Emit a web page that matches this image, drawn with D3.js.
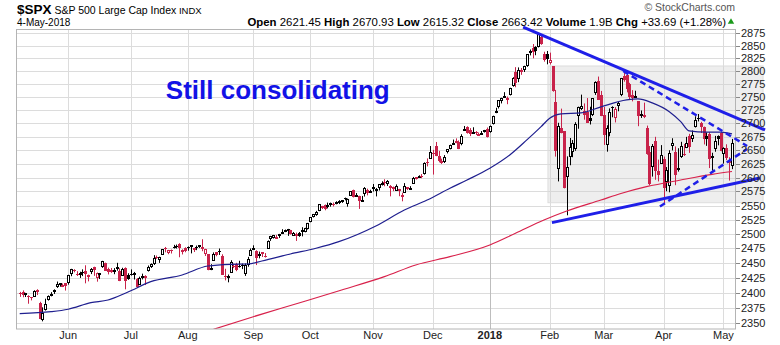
<!DOCTYPE html>
<html><head><meta charset="utf-8">
<script src="https://cdn.jsdelivr.net/npm/d3@7"></script>
<style>body{margin:0;background:#fff}svg{display:block;font-family:"Liberation Sans",Arial,sans-serif}</style>
</head><body><svg id="c" width="780" height="345"></svg>
<script>
// ---- data ----
const dates = [
"2017-05-08","2017-05-09","2017-05-10","2017-05-11","2017-05-12","2017-05-15","2017-05-16","2017-05-17","2017-05-18","2017-05-19","2017-05-22","2017-05-23","2017-05-24","2017-05-25","2017-05-26","2017-05-30","2017-05-31",
"2017-06-01","2017-06-02","2017-06-05","2017-06-06","2017-06-07","2017-06-08","2017-06-09","2017-06-12","2017-06-13","2017-06-14","2017-06-15","2017-06-16","2017-06-19","2017-06-20","2017-06-21","2017-06-22","2017-06-23","2017-06-26","2017-06-27","2017-06-28","2017-06-29","2017-06-30",
"2017-07-03","2017-07-05","2017-07-06","2017-07-07","2017-07-10","2017-07-11","2017-07-12","2017-07-13","2017-07-14","2017-07-17","2017-07-18","2017-07-19","2017-07-20","2017-07-21","2017-07-24","2017-07-25","2017-07-26","2017-07-27","2017-07-28","2017-07-31",
"2017-08-01","2017-08-02","2017-08-03","2017-08-04","2017-08-07","2017-08-08","2017-08-09","2017-08-10","2017-08-11","2017-08-14","2017-08-15","2017-08-16","2017-08-17","2017-08-18","2017-08-21","2017-08-22","2017-08-23","2017-08-24","2017-08-25","2017-08-28","2017-08-29","2017-08-30","2017-08-31",
"2017-09-01","2017-09-05","2017-09-06","2017-09-07","2017-09-08","2017-09-11","2017-09-12","2017-09-13","2017-09-14","2017-09-15","2017-09-18","2017-09-19","2017-09-20","2017-09-21","2017-09-22","2017-09-25","2017-09-26","2017-09-27","2017-09-28","2017-09-29",
"2017-10-02","2017-10-03","2017-10-04","2017-10-05","2017-10-06","2017-10-09","2017-10-10","2017-10-11","2017-10-12","2017-10-13","2017-10-16","2017-10-17","2017-10-18","2017-10-19","2017-10-20","2017-10-23","2017-10-24","2017-10-25","2017-10-26","2017-10-27","2017-10-30","2017-10-31",
"2017-11-01","2017-11-02","2017-11-03","2017-11-06","2017-11-07","2017-11-08","2017-11-09","2017-11-10","2017-11-13","2017-11-14","2017-11-15","2017-11-16","2017-11-17","2017-11-20","2017-11-21","2017-11-22","2017-11-24","2017-11-27","2017-11-28","2017-11-29","2017-11-30",
"2017-12-01","2017-12-04","2017-12-05","2017-12-06","2017-12-07","2017-12-08","2017-12-11","2017-12-12","2017-12-13","2017-12-14","2017-12-15","2017-12-18","2017-12-19","2017-12-20","2017-12-21","2017-12-22","2017-12-26","2017-12-27","2017-12-28","2017-12-29",
"2018-01-02","2018-01-03","2018-01-04","2018-01-05","2018-01-08","2018-01-09","2018-01-10","2018-01-11","2018-01-12","2018-01-16","2018-01-17","2018-01-18","2018-01-19","2018-01-22","2018-01-23","2018-01-24","2018-01-25","2018-01-26","2018-01-29","2018-01-30","2018-01-31",
"2018-02-01","2018-02-02","2018-02-05","2018-02-06","2018-02-07","2018-02-08","2018-02-09","2018-02-12","2018-02-13","2018-02-14","2018-02-15","2018-02-16","2018-02-20","2018-02-21","2018-02-22","2018-02-23","2018-02-26","2018-02-27","2018-02-28",
"2018-03-01","2018-03-02","2018-03-05","2018-03-06","2018-03-07","2018-03-08","2018-03-09","2018-03-12","2018-03-13","2018-03-14","2018-03-15","2018-03-16","2018-03-19","2018-03-20","2018-03-21","2018-03-22","2018-03-23","2018-03-26","2018-03-27","2018-03-28","2018-03-29",
"2018-04-02","2018-04-03","2018-04-04","2018-04-05","2018-04-06","2018-04-09","2018-04-10","2018-04-11","2018-04-12","2018-04-13","2018-04-16","2018-04-17","2018-04-18","2018-04-19","2018-04-20","2018-04-23","2018-04-24","2018-04-25","2018-04-26","2018-04-27","2018-04-30",
"2018-05-01","2018-05-02","2018-05-03","2018-05-04"];

const opens = [
2399.9,2401.6,2396.8,2394.8,2392.4,2393.0,2404.6,2382.9,2354.7,2371.4,2387.2,2397.0,2401.4,2409.5,2414.5,2411.7,2415.6,
2415.6,2431.3,2437.8,2431.9,2432.0,2434.3,2436.4,2425.9,2434.2,2443.8,2424.1,2431.2,2442.5,2450.7,2439.3,2437.4,2434.7,2443.3,2436.3,2428.7,2442.4,2429.2,
2431.4,2430.8,2423.7,2413.5,2424.5,2427.4,2435.8,2444.0,2449.2,2459.5,2455.9,2463.9,2475.6,2467.4,2472.0,2477.9,2479.9,2482.8,2469.1,2475.9,
2477.1,2480.4,2476.0,2476.9,2477.1,2478.3,2465.4,2465.4,2441.0,2454.0,2468.7,2470.2,2462.9,2427.6,2425.5,2433.8,2444.9,2447.9,2444.7,2447.4,2431.9,2446.1,2462.7,
2474.4,2470.4,2463.8,2468.1,2462.3,2474.5,2491.9,2493.9,2494.6,2495.7,2502.5,2506.3,2506.8,2507.2,2497.3,2499.4,2501.0,2503.3,2503.4,2509.0,
2521.2,2530.3,2533.5,2540.9,2547.4,2551.4,2549.0,2550.6,2552.9,2555.7,2555.6,2557.2,2562.9,2553.4,2567.6,2578.1,2568.7,2566.5,2560.1,2570.3,2577.8,2575.0,
2583.2,2579.5,2581.9,2587.5,2592.1,2588.7,2584.0,2580.2,2576.5,2577.8,2569.5,2572.9,2582.9,2579.5,2589.2,2600.3,2600.4,2602.7,2605.9,2627.8,2633.9,
2645.1,2657.2,2639.8,2626.2,2628.4,2646.2,2652.2,2661.7,2667.6,2665.9,2660.6,2685.9,2692.7,2688.2,2683.0,2684.2,2679.1,2682.1,2686.1,2689.2,
2683.7,2697.9,2719.3,2731.3,2742.7,2751.2,2745.6,2753.0,2770.2,2799.0,2785.0,2802.4,2802.6,2809.2,2835.1,2845.4,2846.2,2847.5,2867.2,2832.7,2832.4,
2816.5,2808.9,2741.1,2614.8,2691.0,2685.0,2601.8,2636.8,2646.3,2651.8,2713.5,2727.1,2723.0,2720.5,2710.4,2715.8,2757.4,2780.5,2753.8,
2715.2,2658.9,2681.1,2730.2,2710.2,2732.8,2752.9,2790.5,2792.3,2774.1,2754.3,2750.6,2741.4,2715.1,2715.0,2691.4,2646.7,2619.4,2667.6,2611.3,2625.5,
2633.5,2592.2,2584.0,2657.4,2645.8,2617.2,2638.4,2643.0,2653.8,2676.9,2670.1,2692.7,2710.1,2701.2,2692.6,2675.4,2680.8,2634.9,2651.7,2675.5,2682.7,
2643.0,2654.2,2628.1,2621.5];

const highs = [
2401.4,2403.9,2399.7,2395.7,2392.4,2404.1,2405.8,2384.9,2375.7,2390.0,2395.5,2400.9,2405.6,2418.7,2416.0,2415.3,2415.8,
2430.1,2440.2,2439.5,2436.2,2435.3,2439.3,2446.2,2430.4,2441.5,2443.8,2433.9,2433.2,2453.8,2450.7,2442.2,2441.6,2441.4,2450.4,2441.0,2442.0,2442.7,2432.7,
2439.2,2434.9,2424.5,2426.9,2432.0,2429.3,2445.8,2449.3,2463.5,2462.8,2460.9,2473.8,2477.6,2472.5,2473.1,2481.2,2481.7,2484.0,2473.5,2477.0,
2478.5,2480.4,2476.0,2480.0,2480.9,2490.9,2474.4,2465.4,2448.1,2468.2,2468.9,2474.9,2465.0,2440.3,2430.6,2454.8,2448.9,2450.4,2453.9,2449.1,2449.2,2460.6,2475.0,
2480.4,2471.9,2469.6,2468.6,2467.1,2488.9,2496.8,2498.4,2498.4,2500.2,2508.3,2507.8,2508.9,2507.2,2503.5,2502.5,2503.5,2511.8,2510.8,2519.4,
2529.2,2535.1,2540.5,2552.5,2549.4,2551.8,2555.2,2555.2,2555.3,2557.6,2559.5,2559.7,2564.1,2562.4,2575.4,2578.3,2572.2,2567.4,2567.1,2582.9,2580.0,2578.1,
2588.4,2581.1,2588.4,2593.4,2597.0,2595.5,2586.5,2583.8,2587.7,2579.7,2572.8,2590.1,2583.0,2584.6,2601.2,2600.9,2604.2,2606.4,2627.7,2634.9,2657.7,
2650.6,2665.2,2648.7,2634.4,2641.0,2651.7,2660.3,2669.7,2671.9,2668.1,2679.6,2695.0,2694.4,2691.0,2692.6,2685.4,2682.7,2685.6,2687.7,2692.1,
2695.9,2714.4,2729.3,2743.5,2748.5,2759.1,2750.8,2767.6,2787.9,2807.5,2807.0,2805.8,2810.3,2833.0,2842.2,2853.0,2848.6,2872.9,2870.6,2837.8,2839.3,
2836.0,2808.9,2763.4,2701.0,2727.7,2685.3,2638.7,2672.6,2668.8,2702.1,2731.5,2754.4,2737.6,2747.8,2731.3,2747.8,2780.0,2789.2,2761.5,
2730.9,2696.3,2728.1,2732.1,2730.6,2740.5,2786.6,2797.0,2801.9,2777.1,2763.0,2761.9,2741.4,2724.2,2739.1,2695.7,2657.7,2661.4,2674.8,2632.7,2659.4,
2638.3,2619.1,2649.9,2672.1,2656.9,2653.6,2665.5,2661.4,2674.7,2680.3,2686.5,2713.3,2717.5,2702.8,2693.9,2682.9,2683.6,2645.3,2676.5,2677.4,2682.9,
2655.3,2660.9,2637.1,2670.9];

const lows = [
2393.1,2392.4,2392.8,2381.7,2387.2,2393.0,2396.1,2356.2,2352.7,2370.4,2386.9,2393.9,2397.9,2408.0,2410.0,2409.4,2403.6,
2413.5,2427.7,2434.3,2428.1,2424.8,2427.9,2415.7,2419.0,2431.3,2428.3,2418.5,2422.9,2441.8,2436.6,2430.7,2433.3,2431.1,2437.0,2419.4,2428.7,2405.7,2421.6,
2428.7,2422.1,2407.7,2413.5,2422.3,2412.8,2435.6,2441.7,2446.7,2457.2,2450.3,2463.9,2468.4,2465.1,2466.3,2474.9,2474.9,2459.9,2464.7,2468.5,
2471.1,2466.5,2468.9,2472.1,2475.9,2470.3,2462.1,2437.8,2437.9,2454.0,2461.6,2463.9,2430.0,2420.7,2417.4,2433.7,2441.4,2436.2,2442.2,2439.7,2428.2,2443.8,2462.7,
2473.9,2446.6,2458.0,2460.3,2459.4,2474.5,2488.0,2492.1,2491.4,2493.2,2499.9,2503.2,2496.7,2499.0,2496.5,2488.0,2495.1,2495.9,2502.9,2507.8,
2520.4,2528.9,2531.8,2540.0,2543.8,2541.6,2544.9,2547.9,2548.3,2552.1,2552.6,2554.7,2559.2,2547.9,2567.6,2564.3,2565.6,2544.0,2559.8,2565.9,2568.1,2572.5,
2574.9,2566.2,2576.8,2585.7,2584.4,2585.0,2566.3,2575.6,2576.5,2566.6,2557.5,2572.9,2577.5,2578.2,2589.2,2596.5,2600.4,2598.9,2605.4,2620.3,2633.9,
2605.5,2639.0,2627.7,2624.8,2626.5,2644.1,2651.5,2659.8,2662.9,2652.0,2659.1,2685.9,2680.7,2676.1,2682.4,2678.1,2678.0,2678.9,2682.7,2673.6,
2682.4,2697.8,2719.1,2727.9,2737.6,2747.9,2736.1,2752.8,2769.6,2768.6,2778.4,2792.6,2798.1,2808.1,2830.6,2824.8,2830.9,2846.2,2851.5,2818.3,2813.0,
2812.7,2760.0,2638.2,2593.1,2681.3,2580.6,2532.7,2622.4,2637.1,2648.9,2689.8,2725.1,2706.8,2701.3,2697.8,2713.7,2753.8,2744.2,2713.5,
2659.7,2647.3,2675.8,2711.3,2701.7,2722.7,2751.5,2779.3,2758.7,2744.4,2741.5,2750.0,2694.6,2710.1,2709.8,2641.6,2585.9,2601.8,2596.1,2593.1,2624.7,
2553.8,2575.5,2573.6,2649.6,2586.3,2610.8,2635.8,2639.3,2653.8,2645.1,2665.2,2692.1,2703.6,2681.9,2660.6,2658.0,2617.3,2612.7,2647.2,2659.0,2648.0,
2625.4,2631.7,2594.6,2615.3];

const closes = [
2399.4,2396.9,2399.6,2394.4,2390.9,2402.3,2400.7,2357.0,2365.7,2381.7,2394.0,2398.4,2404.4,2415.1,2415.8,2412.9,2411.8,
2430.1,2439.1,2436.1,2429.3,2433.1,2433.8,2431.8,2429.4,2440.4,2437.9,2432.5,2433.2,2453.5,2437.0,2435.6,2434.5,2438.3,2439.1,2419.4,2440.7,2419.7,2423.4,
2429.0,2432.5,2409.8,2425.2,2427.4,2425.5,2443.3,2447.8,2459.3,2459.1,2460.6,2473.8,2473.5,2472.5,2469.9,2477.1,2477.8,2475.4,2472.1,2470.3,
2476.4,2477.6,2472.2,2476.8,2480.9,2474.9,2474.0,2438.2,2441.3,2465.8,2464.6,2468.1,2430.0,2425.6,2428.4,2452.5,2444.0,2439.0,2443.1,2444.2,2446.3,2457.6,2471.7,
2476.6,2457.9,2465.5,2465.1,2461.4,2488.1,2496.5,2498.4,2495.6,2500.2,2503.9,2506.7,2508.2,2500.6,2502.2,2496.7,2496.8,2507.0,2510.1,2519.4,
2529.1,2534.6,2537.7,2552.1,2549.3,2544.7,2550.6,2555.2,2550.9,2553.2,2557.6,2559.4,2561.3,2562.1,2575.2,2565.0,2569.1,2557.2,2560.4,2581.1,2572.8,2575.3,
2579.4,2579.9,2587.8,2591.1,2590.6,2594.4,2584.6,2582.3,2584.8,2578.9,2564.6,2585.6,2578.9,2582.1,2599.0,2597.1,2602.4,2601.4,2627.0,2626.1,2647.6,
2642.2,2639.4,2629.6,2629.3,2637.0,2651.5,2660.0,2664.1,2662.9,2652.0,2675.8,2690.2,2681.5,2679.3,2684.6,2683.3,2680.5,2682.6,2687.5,2673.6,
2695.8,2713.1,2724.0,2743.2,2747.7,2751.3,2748.2,2767.6,2786.2,2776.4,2802.6,2798.0,2810.3,2833.0,2839.1,2837.5,2839.3,2872.9,2853.5,2822.4,2823.8,
2822.0,2762.1,2648.9,2695.1,2681.7,2581.0,2619.6,2656.0,2662.9,2698.6,2731.2,2732.2,2716.3,2701.3,2704.0,2747.3,2779.6,2744.3,2713.8,
2677.7,2691.3,2720.9,2728.1,2726.8,2739.0,2786.6,2783.0,2765.3,2749.5,2747.3,2752.0,2712.9,2716.9,2711.9,2643.7,2588.3,2658.6,2612.6,2605.0,2640.9,
2581.9,2614.5,2644.7,2662.8,2604.5,2613.2,2656.9,2642.2,2664.0,2656.3,2677.8,2706.4,2708.6,2693.1,2670.1,2670.3,2634.6,2639.4,2666.9,2669.9,2648.1,
2654.8,2635.7,2629.7,2663.4];

// moving averages: [trading-day index, value]
const ma50 = [[0,2365.4],[11,2368.5],[17,2372.5],[25,2383.4],[31,2387.9],[38,2401.2],[46,2418.5],[57,2429.8],[66,2445.0],[74,2447.9],[80,2448.4],[85,2453.5],[95,2465.5],[104,2475.3],[112,2486.7],[125,2514.0],[135,2542.1],[143,2559.8],[151,2580.8],[157,2595.7],[165,2617.0],[172,2641.2],[178,2669.0],[183,2693.8],[186,2709.6],[190,2717.7],[197,2719.6],[204,2731.0],[213,2744.4],[217,2746.3],[222,2738.6],[228,2721.9],[232,2703.2],[235,2685.8],[241,2683.4],[246,2683.4],[250,2680.2]];
const ma200 = [[68,2339.7],[82,2360.3],[98,2382.9],[113,2404.5],[128,2426.9],[139,2446.7],[151,2460.9],[165,2481.0],[174,2501.3],[184,2524.5],[192,2540.4],[204,2559.8],[211,2571.4],[220,2583.6],[232,2595.7],[243,2605.9],[250,2611.0]];

// annotations: [trading-day index, value]
const trendUpper = [[176.7,2887],[261.6,2687.5]];
const trendLower = [[186.8,2519.8],[259.8,2599.3]];
const dashUpper = [[211.8,2800.1],[255.3,2657.8]];
const dashLower = [[224.7,2548.3],[255.3,2652.3]];
const boxRange = {i0:185.4, i1:260.9, v0:2555.0, v1:2809.8};
const note = {i:51.3, v:2746.1, text:"Still consolidating"};

const yTicks = [2350,2375,2400,2425,2450,2475,2500,2525,2550,2575,2600,2625,2650,2675,2700,2725,2750,2775,2800,2825,2850,2875];
const monthNames = ["Jan","Feb","Mar","Apr","May","Jun","Jul","Aug","Sep","Oct","Nov","Dec"];

// ---- chart ----
const svg = d3.select("#c");
const L=16, R=736, T=29, B=329;
const x = d3.scaleLinear().domain([-1.3, 251.4]).range([L, R]);
const y = d3.scaleLog().domain([2340.2, 2883]).range([B, T]);
const RED = "#c8224a", BLK = "#000";

svg.append("defs").append("clipPath").attr("id","pc")
  .append("rect").attr("x",L).attr("y",T).attr("width",R-L).attr("height",B-T);

// month ticks
const mTicks = [];
dates.forEach((d,i)=>{ if(i>0 && d.slice(5,7)!==dates[i-1].slice(5,7)) { const m=+d.slice(5,7); mTicks.push({i, label: m===1? d.slice(0,4): monthNames[m-1], year:m===1}); }});

// grid
svg.append("g").selectAll("line").data(yTicks).join("line")
  .attr("x1",L).attr("x2",R).attr("y1",d=>Math.round(y(d))+0.5).attr("y2",d=>Math.round(y(d))+0.5)
  .attr("stroke","#dcdcdc").attr("stroke-width",1);
svg.append("g").selectAll("line").data(mTicks).join("line")
  .attr("x1",d=>Math.round(x(d.i))+0.5).attr("x2",d=>Math.round(x(d.i))+0.5).attr("y1",T).attr("y2",B)
  .attr("stroke",d=>d.year?"#bdbdbd":"#dcdcdc").attr("stroke-width",1);

// consolidation box
svg.append("rect")
  .attr("x",x(boxRange.i0)).attr("y",y(boxRange.v1))
  .attr("width",x(boxRange.i1)-x(boxRange.i0)).attr("height",y(boxRange.v0)-y(boxRange.v1))
  .attr("fill","#cfcfcf").attr("fill-opacity",0.35).attr("stroke","#dddddd");

// candles
const cg = svg.append("g").attr("clip-path","url(#pc)");
const data = dates.map((d,i)=>({i,o:opens[i],h:highs[i],l:lows[i],c:closes[i],pc: i>0?closes[i-1]:opens[i]}));
data.forEach(d=>{
  const cx = Math.round(x(d.i));
  const col = d.c >= d.pc ? BLK : RED;
  cg.append("line").attr("x1",cx+0.5).attr("x2",cx+0.5).attr("y1",y(d.h)).attr("y2",y(d.l)).attr("stroke",col).attr("stroke-width",1);
  const top = y(Math.max(d.o,d.c)), bot = y(Math.min(d.o,d.c));
  if (d.c > d.o) {
    const t=Math.round(top), b=Math.max(Math.round(bot), t+2);
    cg.append("rect").attr("x",cx-0.5).attr("y",t+0.5).attr("width",2).attr("height",b-t-1)
      .attr("fill","#fff").attr("stroke",col).attr("stroke-width",1);
  } else {
    const t=Math.round(top), b=Math.max(Math.round(bot), t+1);
    cg.append("rect").attr("x",cx-1).attr("y",t).attr("width",3).attr("height",b-t).attr("fill",col);
  }
});

// moving averages
const ln = d3.line().x(d=>x(d[0])).y(d=>y(d[1])).curve(d3.curveMonotoneX);
const mg = svg.append("g").attr("clip-path","url(#pc)");
mg.append("path").attr("d",ln(ma200)).attr("fill","none").attr("stroke","#d8214b").attr("stroke-width",1.2);
mg.append("path").attr("d",ln(ma50)).attr("fill","none").attr("stroke","#1f1f8f").attr("stroke-width",1.2);

// frame
svg.append("rect").attr("x",L+0.5).attr("y",T+0.5).attr("width",R-L-1).attr("height",B-T-0.5)
  .attr("fill","none").attr("stroke","#b4b4b4").attr("stroke-width",1);

// annotations
const sl = d3.line().x(d=>x(d[0])).y(d=>y(d[1]));
const BLUE = "#1f1fe8";
svg.append("path").attr("d",sl(trendUpper)).attr("stroke",BLUE).attr("stroke-width",3).attr("fill","none");
svg.append("path").attr("d",sl(trendLower)).attr("stroke",BLUE).attr("stroke-width",3).attr("fill","none");
svg.append("path").attr("d",sl(dashUpper)).attr("stroke",BLUE).attr("stroke-width",2.5).attr("stroke-dasharray","6,4").attr("fill","none");
svg.append("path").attr("d",sl(dashLower)).attr("stroke",BLUE).attr("stroke-width",2.5).attr("stroke-dasharray","6,4").attr("fill","none");
svg.append("text").attr("x",x(note.i)).attr("y",y(note.v)).text(note.text)
  .attr("fill","#1212e6").attr("font-weight","bold").attr("font-size",26);

// y axis (right)
const ya = svg.append("g");
ya.selectAll("line").data(yTicks).join("line")
  .attr("x1",R).attr("x2",R+4).attr("y1",d=>Math.round(y(d))+0.5).attr("y2",d=>Math.round(y(d))+0.5).attr("stroke","#888");
ya.selectAll("text").data(yTicks).join("text")
  .attr("x",R+5).attr("y",d=>y(d)+4).text(d=>d).attr("font-size",11).attr("fill","#222");

// x axis labels
svg.append("g").selectAll("text").data(mTicks).join("text")
  .attr("x",d=>x(d.i)).attr("y",339).attr("text-anchor","middle").text(d=>d.label)
  .attr("font-size",11).attr("fill","#222").attr("font-weight",d=>d.year?"bold":"normal");

// header
const h1 = svg.append("text").attr("x",17).attr("y",14).attr("fill","#000");
h1.append("tspan").text("$SPX").attr("font-weight","bold").attr("font-size",13.5);
h1.append("tspan").text(" S&P 500 Large Cap Index").attr("font-size",10.5);
h1.append("tspan").text("  INDX").attr("font-size",9.5);
svg.append("text").attr("x",17).attr("y",26).text("4-May-2018").attr("font-size",10).attr("fill","#000");
svg.append("text").attr("x",735).attr("y",11).attr("text-anchor","end").text("\u00A9 StockCharts.com").attr("font-size",10.5).attr("fill","#555");
const quote = [["Open","2621.45"],["High","2670.93"],["Low","2615.32"],["Close","2663.42"],["Volume","1.9B"],["Chg","+33.69 (+1.28%)"]];
const h2 = svg.append("text").attr("x",726).attr("y",26).attr("text-anchor","end").attr("font-size",11.4).attr("fill","#000");
quote.forEach((q,k)=>{
  h2.append("tspan").text((k?"  ":"")+q[0]).attr("font-weight","bold");
  h2.append("tspan").text(" "+q[1]);
});
svg.append("path").attr("d",d3.symbol(d3.symbolTriangle,18)()).attr("transform","translate(731,22)").attr("fill","#1a9a1a");
</script></body></html>
